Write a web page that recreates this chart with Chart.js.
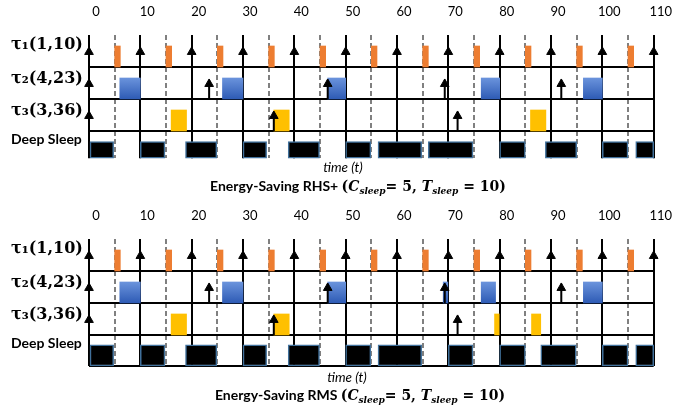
<!DOCTYPE html>
<html>
<head>
<meta charset="utf-8">
<script src="https://cdn.jsdelivr.net/npm/chart.js@4.4.1/dist/chart.umd.min.js"></script>
<style>
  body { margin: 0; background: #fff; overflow: hidden; }
  canvas { display: block; }
</style>
</head>
<body>
<canvas id="rhsChart" width="680" height="204"></canvas>
<canvas id="rmsChart" width="680" height="208"></canvas>
<script>
const timeTicks = [0, 10, 20, 30, 40, 50, 60, 70, 80, 90, 100, 110];
const sleepPeriods = [5, 15, 25, 35, 45, 55, 65, 75, 85, 95, 105];
const rowLabels = ["τ₁(1,10)", "τ₂(4,23)", "τ₃(3,36)", "Deep Sleep"];

// job releases (arrows)
const tau1Releases = [0, 10, 20, 30, 40, 50, 60, 70, 80, 90, 100, 110];
const tau2Releases = [0, 23.4, 46.5, 69.3, 92];
const tau3Releases = [0, 36, 71.8];

// Energy-Saving RHS+ schedule, [start, end]
const rhsTau1 = [[5, 6.1], [15, 16.1], [25, 26.1], [35, 36.1], [45, 46.1], [55, 56.1], [65, 66.1], [75, 76.1], [85, 86.1], [95, 96.1], [105, 106.1]];
const rhsTau2 = [[6, 10], [26, 30], [46.5, 50], [76.4, 80], [96.3, 100]];
const rhsTau3 = [[16, 19], [36, 39], [86, 89]];
const rhsSleep = [[0, 4.8], [10, 14.8], [18.8, 24.9], [30, 34.6], [38.8, 44.9], [50, 54.9], [56.3, 64.8], [66.1, 74.8], [80, 85], [88.9, 95], [100, 105], [106.5, 110]];

// Energy-Saving RMS schedule, [start, end]
const rmsTau1 = [[5, 6.1], [15, 16.1], [25, 26.1], [35, 36.1], [45, 46.1], [55, 56.1], [65, 66.1], [75, 76.1], [85, 86.1], [95, 96.1], [105, 106.1]];
const rmsTau2 = [[6, 10], [26, 30], [46.5, 50], [69, 69.9], [76.4, 79.2], [96.3, 100]];
const rmsTau3 = [[16, 19], [36, 39], [79, 79.9], [86.2, 88]];
const rmsSleep = [[0, 4.8], [10, 14.8], [18.8, 24.9], [30, 34.6], [38.8, 44.9], [50, 54.9], [56.3, 64.8], [70, 74.8], [80, 85], [88, 94.9], [100, 105], [106.5, 110]];

const ROW_PX = 32;   // one row = 1 unit on the y scale
const TASK_PX = 21;

function titleRuns(name) {
    const sans = 'bold 14px Lato';
    const math = 'bold 14px "DejaVu Serif"';
    const mathIt = 'italic bold 14px "DejaVu Serif"';
    const sub = 'italic bold 9px "DejaVu Serif"';
    return [
        { text: 'Energy-Saving ' + name + ' ', font: sans },
        { text: '(', font: math },
        { text: 'C', font: mathIt },
        { text: 'sleep', font: sub, dy: 3 },
        { text: '= 5, ', font: math },
        { text: 'T', font: mathIt },
        { text: 'sleep', font: sub, dy: 3 },
        { text: ' = 10)', font: math }
    ];
}

// "time (t)" and the figure caption under each chart
const underText = {
    id: 'underText',
    afterDraw(chart, args, o) {
        const ctx = chart.ctx;
        ctx.save();
        ctx.fillStyle = '#000';
        ctx.textBaseline = 'alphabetic';
        ctx.textAlign = 'center';
        ctx.font = 'italic 13.5px Lato';
        ctx.fillText('time (t)', o.axisX, o.axisY);
        let total = 0;
        o.runs.forEach(r => { ctx.font = r.font; r.w = ctx.measureText(r.text).width; total += r.w; });
        let x = o.titleX - total / 2;
        ctx.textAlign = 'left';
        o.runs.forEach(r => {
            ctx.font = r.font;
            ctx.fillText(r.text, x, o.titleY + (r.dy || 0));
            x += r.w;
        });
        ctx.restore();
    }
};

function barSet(list, yCenter, color, thick, extra) {
    return Object.assign({
        type: 'bar',
        data: list.map(([s, e]) => ({ x: [s, e], y: yCenter })),
        backgroundColor: color,
        borderWidth: 0,
        borderSkipped: false,
        grouped: false,
        barThickness: thick,
        maxBarThickness: thick,
        clip: false,
        order: 2
    }, extra || {});
}

function blueFill(c) {
    const chart = c.chart;
    if (!chart.chartArea) return '#4472C4';
    const y = chart.scales.y;
    const top = y.getPixelForValue(2 + TASK_PX / ROW_PX);
    const bot = y.getPixelForValue(2);
    const g = chart.ctx.createLinearGradient(0, top, 0, bot);
    g.addColorStop(0, '#6A93DC');
    g.addColorStop(1, '#2E5BB5');
    return g;
}

function buildChart(id, tau1, tau2, tau3, sleep, name, geo) {
    const tc = TASK_PX / 2 / ROW_PX;
    const sleepCenter = geo.yMin + (geo.sleepTop - geo.yMin) / 2;
    const sleepPx = (geo.sleepTop - geo.yMin) * ROW_PX;

    // arrow stems for releases that are not on a tau1 grid line
    const stems = [];
    [[tau2Releases, 2], [tau3Releases, 1]].forEach(([rel, base]) => {
        rel.filter(t => !timeTicks.includes(t)).forEach(t => {
            stems.push({ x: t, y: base }, { x: t, y: base + 0.6 }, { x: t, y: null });
        });
    });
    const heads = []
        .concat(tau1Releases.map(t => ({ x: t, y: 3.47 })))
        .concat(tau2Releases.map(t => ({ x: t, y: 2.47 })))
        .concat(tau3Releases.map(t => ({ x: t, y: 1.47 })));

    return new Chart(document.getElementById(id), {
        type: 'bar',
        data: {
            datasets: [
                {
                    type: 'line', indexAxis: 'x', data: heads, showLine: false,
                    pointStyle: 'triangle', pointRadius: 5, pointBackgroundColor: '#000',
                    pointBorderColor: '#000', pointBorderWidth: 1, clip: false, order: 0
                },
                {
                    type: 'line', indexAxis: 'x', data: stems, borderColor: '#000', borderWidth: 2,
                    pointRadius: 0, spanGaps: false, clip: false, order: 1
                },
                barSet(tau1, 3 + tc, '#ED7D31', TASK_PX),
                barSet(tau2, 2 + tc, blueFill, TASK_PX),
                barSet(tau3, 1 + tc, '#FFC000', TASK_PX),
                barSet(sleep, sleepCenter, '#000', sleepPx, { borderWidth: 1.5, borderColor: '#41719C' })
            ]
        },
        options: {
            indexAxis: 'y',
            responsive: false,
            animation: false,
            events: [],
            layout: { padding: { left: 11, right: 17, top: 0, bottom: geo.padBottom } },
            plugins: {
                legend: { display: false },
                tooltip: { enabled: false },
                underText: { axisX: geo.axisX, axisY: geo.axisY, titleX: geo.titleX, titleY: geo.titleY, runs: titleRuns(name) }
            },
            scales: {
                x: {
                    type: 'linear', position: 'top', min: 0, max: 110,
                    afterBuildTicks: s => { s.ticks = timeTicks.map(v => ({ value: v })); },
                    afterFit: s => { s.height = 35; },
                    grid: { color: '#000', lineWidth: 2, drawTicks: false },
                    border: { display: false },
                    ticks: { padding: 15, labelOffset: 7, color: '#000', font: { family: 'Lato', size: 13 } }
                },
                x2: {
                    type: 'linear', position: 'bottom', min: 0, max: 110,
                    afterBuildTicks: s => { s.ticks = sleepPeriods.map(v => ({ value: v })); },
                    afterFit: s => { s.height = 0; },
                    grid: { color: '#808080', lineWidth: 2, drawTicks: false },
                    border: { display: false, dash: [5, 3] },
                    ticks: { display: false }
                },
                y: {
                    type: 'linear', position: 'left', min: geo.yMin, max: 4, offset: false,
                    afterBuildTicks: s => { s.ticks = geo.rowLines.map(v => ({ value: v })); },
                    afterFit: s => { s.width = 0; },
                    grid: { color: '#000', lineWidth: 2, drawTicks: false, offset: false },
                    border: { display: false },
                    ticks: { display: false }
                },
                y2: {
                    type: 'linear', position: 'left', min: geo.yMin, max: 4, offset: false,
                    afterBuildTicks: s => { s.ticks = [3.68, 2.64, 1.64, 0.72].map(v => ({ value: v })); },
                    afterFit: s => { s.width = 78; },
                    grid: { display: false },
                    border: { display: false },
                    ticks: {
                        autoSkip: false, crossAlign: 'far', padding: 0, color: '#000',
                        callback: (v, i) => rowLabels[i],
                        font: c => c.index === 3
                            ? { family: 'Lato', size: 14, weight: 'bold' }
                            : { family: 'DejaVu Serif', size: 16, weight: 'bold' }
                    }
                }
            }
        },
        plugins: [underText]
    });
}

buildChart('rhsChart', rhsTau1, rhsTau2, rhsTau3, rhsSleep, 'RHS+', {
    yMin: 0.15, sleepTop: 0.67, rowLines: [1, 2, 3], padBottom: 45.8,
    axisX: 343, axisY: 172, titleX: 358, titleY: 191
});
buildChart('rmsChart', rmsTau1, rmsTau2, rmsTau3, rmsSleep, 'RMS', {
    yMin: 0.03, sleepTop: 0.69, rowLines: [0.03, 1, 2, 3], padBottom: 46,
    axisX: 347, axisY: 178, titleX: 360, titleY: 196
});
</script>
</body>
</html>
